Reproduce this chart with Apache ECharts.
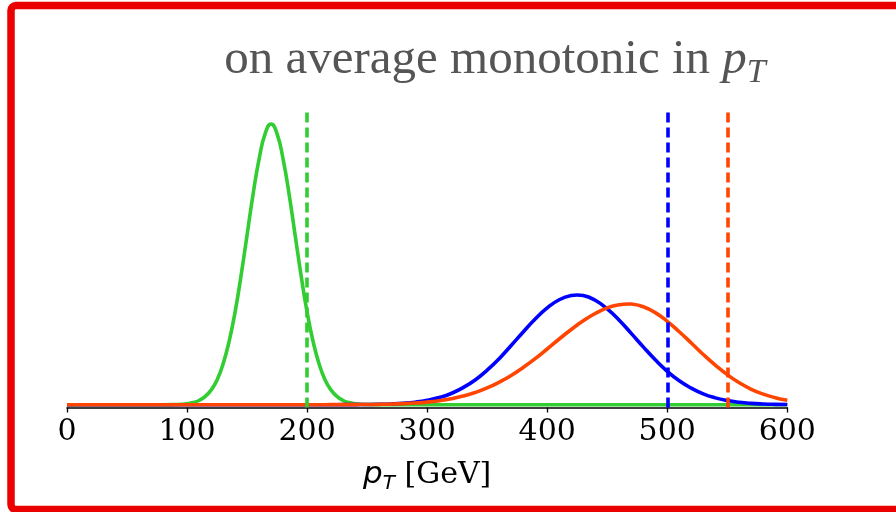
<!DOCTYPE html>
<html>
<head>
<meta charset="utf-8">
<script src="https://cdn.jsdelivr.net/npm/echarts@6/dist/echarts.min.js"></script>
<style>
  html, body { margin: 0; padding: 0; background: #ffffff; }
  #chart { width: 896px; height: 512px; }
</style>
</head>
<body>
<div id="chart"></div>
<script>
// narrow low-p_T distribution (finer sampling around its peak)
const greenPt = [0, 50, 80, 90, 95, 100, 105, 110, 115, 120, 125, 130, 135, 140, 145, 150, 155, 160, 165,
  170, 175, 180, 185, 190, 195, 200, 205, 210, 215, 220, 225, 230, 235, 240, 245, 250, 260, 270, 300,
  400, 500, 600];
const greenVal = [0, 0, 0, 0.0006, 0.0015, 0.0035, 0.0075, 0.015, 0.029, 0.052, 0.088, 0.145, 0.225, 0.33,
  0.46, 0.605, 0.75, 0.875, 0.965, 1.0, 0.965, 0.875, 0.75, 0.605, 0.46, 0.33, 0.225, 0.145, 0.088, 0.052,
  0.029, 0.015, 0.0075, 0.0035, 0.0015, 0.0006, 0.0001, 0, 0, 0, 0, 0];

// broad distribution peaking near 425 GeV
const bluePt = [0, 10, 20, 30, 40, 50, 60, 70, 80, 90, 100, 110, 120, 130, 140, 150, 160, 170, 180, 190,
  200, 210, 220, 230, 240, 250, 260, 270, 280, 290, 300, 310, 320, 330, 340, 350, 360, 370, 380, 390,
  400, 410, 420, 425, 430, 440, 450, 460, 470, 480, 490, 500, 510, 520, 530, 540, 550, 560, 570, 580,
  590, 600];
const blueVal = [0, 0, 0, 0, 0, 0, 0, 0, 0, 0, 0, 0, 0, 0, 0, 0, 0, 0, 0, 0, 0, 0,
  0, 0.0001, 0.0003, 0.0007, 0.0014, 0.0027, 0.005, 0.009, 0.0155, 0.0255, 0.040, 0.061, 0.088, 0.123,
  0.164, 0.211, 0.259, 0.305, 0.345, 0.374, 0.389, 0.391, 0.389, 0.372, 0.341, 0.301, 0.254, 0.206,
  0.160, 0.119, 0.085, 0.059, 0.0385, 0.0243, 0.0147, 0.0086, 0.0048, 0.0026, 0.0013, 0.0006];

// broad distribution peaking near 467 GeV, longer low-side tail
const orangePt = [0, 10, 20, 30, 40, 50, 60, 70, 80, 90, 100, 110, 120, 130, 140, 150, 160, 170, 180, 190,
  200, 210, 220, 230, 240, 250, 260, 270, 280, 290, 300, 310, 320, 330, 340, 350, 360, 370, 380, 390,
  400, 410, 420, 430, 440, 450, 460, 467, 470, 480, 490, 500, 510, 520, 530, 540, 550, 560, 570, 580,
  590, 600];
const orangeVal = [0, 0, 0, 0, 0, 0, 0, 0, 0, 0, 0, 0, 0, 0, 0, 0, 0, 0, 0, 0, 0,
  0, 0.0001, 0.0002, 0.0004, 0.0007, 0.0013, 0.0022, 0.0037, 0.006, 0.0093, 0.0142, 0.0212, 0.0307,
  0.0433, 0.0596, 0.080, 0.104, 0.1326, 0.164, 0.1985, 0.234, 0.268, 0.299, 0.325, 0.345, 0.356, 0.359,
  0.3585, 0.349, 0.328, 0.297, 0.260, 0.220, 0.179, 0.141, 0.107, 0.078, 0.055, 0.0377, 0.0249, 0.0158];

// p_T thresholds drawn as dashed verticals
const thresholds = [200, 500, 550];
const colors = ['#32cd32', '#0000ff', '#ff4500'];

const zip = (xs, ys) => xs.map((x, i) => [x, ys[i]]);
const curves = [zip(greenPt, greenVal), zip(bluePt, blueVal), zip(orangePt, orangeVal)];

const serif = "'DejaVu Serif', serif";
const sans = "'DejaVu Sans', sans-serif";
const times = "'Liberation Serif', 'Times New Roman', serif";

const chart = echarts.init(document.getElementById('chart'), null, { renderer: 'canvas' });

chart.setOption({
  animation: false,
  backgroundColor: '#ffffff',
  grid: { left: 67, right: 108.7, top: 110, bottom: 104.5, containLabel: false },
  xAxis: {
    type: 'value',
    min: 0,
    max: 600,
    interval: 100,
    name: '{p|p}{t|T}{g| [GeV]}',
    nameLocation: 'middle',
    nameGap: 49,
    nameTextStyle: {
      rich: {
        p: { fontFamily: sans, fontStyle: 'italic', fontSize: 31, color: '#000' },
        t: { fontFamily: sans, fontStyle: 'italic', fontSize: 20, color: '#000', padding: [17, 0, 0, 0] },
        g: { fontFamily: serif, fontSize: 30, color: '#000' }
      }
    },
    axisLine: { onZero: false, lineStyle: { color: '#000', width: 1.6 } },
    axisTick: { show: true, length: 5, lineStyle: { color: '#000', width: 1.3 } },
    axisLabel: { margin: 10, fontFamily: serif, fontSize: 30, color: '#000' },
    splitLine: { show: false }
  },
  yAxis: {
    type: 'value',
    min: -0.01,
    max: 1.05,
    show: false,
    splitLine: { show: false }
  },
  series: curves.map((pts, i) => ({
    type: 'line',
    data: pts,
    smooth: 0.5,
    showSymbol: false,
    symbol: 'none',
    lineStyle: { color: colors[i], width: 3.6 },
    z: 2 + i,
    markLine: {
      silent: true,
      symbol: ['none', 'none'],
      label: { show: false },
      lineStyle: { color: colors[i], width: 3.6, type: [10, 5] },
      data: [{ xAxis: thresholds[i] }]
    }
  })),
  graphic: [
    {
      type: 'text',
      x: 495,
      y: 60,
      style: {
        text: '{m|on average monotonic in }{p|p}{t|T}',
        align: 'center',
        verticalAlign: 'middle',
        rich: {
          m: { fontFamily: times, fontSize: 49, fill: '#555555', color: '#555555' },
          p: { fontFamily: times, fontStyle: 'italic', fontSize: 49, fill: '#555555', color: '#555555' },
          t: { fontFamily: times, fontStyle: 'italic', fontSize: 34, fill: '#555555', color: '#555555', padding: [27, 0, 0, 0] }
        }
      }
    },
    {
      type: 'rect',
      silent: true,
      shape: { x: 11, y: 5.5, width: 900, height: 504, r: 5 },
      style: { fill: 'none', stroke: '#eb0000', lineWidth: 7.5 }
    }
  ]
});
</script>
</body>
</html>
